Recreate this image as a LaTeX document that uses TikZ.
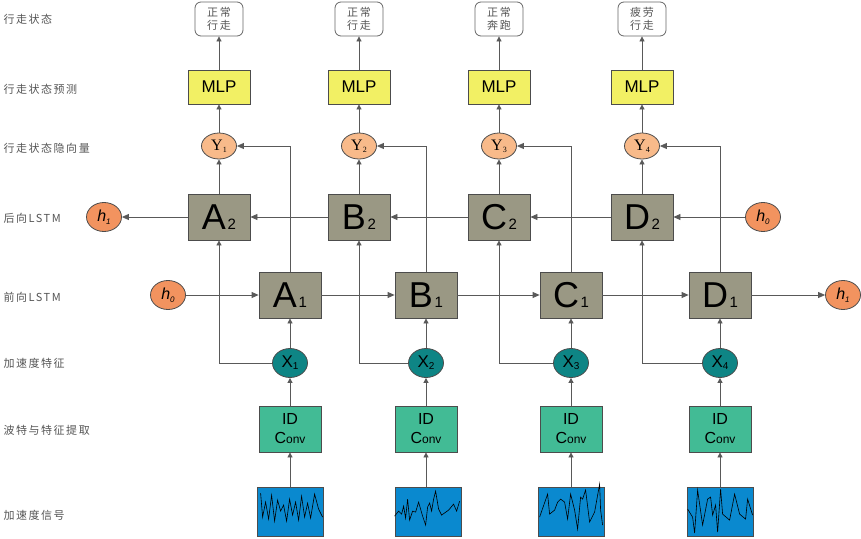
\documentclass[tikz,border=0pt]{standalone}
\usepackage{fontspec}
\setmainfont{Liberation Sans}
\newfontfamily\cjk[LetterSpace=14]{Noto Sans CJK SC}
\newfontfamily\ser{Liberation Serif}
\usetikzlibrary{shapes.geometric,arrows.meta}

\definecolor{lstmgray}{RGB}{154,152,132}
\definecolor{convgreen}{RGB}{66,187,149}
\definecolor{mlpyellow}{RGB}{242,240,100}
\definecolor{ypeach}{RGB}{248,186,138}
\definecolor{horange}{RGB}{242,147,95}
\definecolor{xteal}{RGB}{14,133,133}
\definecolor{sigblue}{RGB}{10,137,207}
\definecolor{txtgray}{RGB}{85,85,85}

\newcommand{\lstmlab}[2]{{\fontsize{36}{36}\selectfont #1}\,{\fontsize{15}{15}\selectfont #2}}
\newcommand{\xlab}[1]{{\fontsize{17}{17}\selectfont X}\raisebox{-2pt}{\fontsize{10}{10}\selectfont #1}}
\newcommand{\ylab}[1]{{\ser\fontsize{16}{16}\selectfont Y}\raisebox{-2pt}{\ser\fontsize{8}{8}\selectfont #1}}
\newcommand{\hlab}[1]{{\itshape\fontsize{16}{16}\selectfont h}\raisebox{-3pt}{\itshape\fontsize{8}{8}\selectfont #1}}
\newcommand{\convlab}{ID\\C{\fontsize{12}{12}\selectfont onv}}

\tikzset{
	line/.style={draw=black!65, line width=0.8pt},
	arr/.style={line, -{Triangle[length=7pt,width=6pt]}},
	sarr/.style={line, -{Triangle[length=5pt,width=5pt]}},
	lstm/.style={draw=black!70, line width=0.8pt, fill=lstmgray, minimum width=62pt, minimum height=46pt, inner sep=0pt},
	conv/.style={draw=black!70, line width=0.8pt, fill=convgreen, minimum width=62pt, minimum height=46pt, inner sep=0pt, align=center, font=\fontsize{16}{19}\selectfont},
	mlp/.style={draw=black!70, line width=0.8pt, fill=mlpyellow, minimum width=62pt, minimum height=34pt, inner sep=0pt, font=\fontsize{17}{17}\selectfont},
	state/.style={draw=black!60, line width=0.8pt, rounded corners=6pt, fill=white, minimum width=48pt, minimum height=34pt, inner sep=0pt, align=center, text=txtgray, font=\cjk\fontsize{11}{12.5}\selectfont},
	xin/.style={ellipse, draw=black!70, line width=0.8pt, fill=xteal, minimum width=35pt, minimum height=29pt, inner sep=0pt},
	yout/.style={ellipse, draw=black!70, line width=0.8pt, fill=ypeach, minimum width=35pt, minimum height=26pt, inner sep=0pt},
	hid/.style={ellipse, draw=black!70, line width=0.8pt, fill=horange, minimum width=35pt, minimum height=29pt, inner sep=0pt},
	sig/.style={draw=black!70, line width=0.8pt, fill=sigblue, minimum width=66pt, minimum height=49pt, inner sep=0pt},
	wave/.style={draw=black, line width=0.6pt},
	rowlab/.style={anchor=west, text=txtgray, font=\cjk\fontsize{11}{11}\selectfont}
}

\begin{document}
\begin{tikzpicture}[x=1pt,y=-1pt]
	\useasboundingbox (0,0) rectangle (861,538);
	% row labels
	\node (l1) at (0,19)[rowlab]{行走状态};
	\node (l2) at (0,89)[rowlab]{行走状态预测};
	\node (l3) at (0,148)[rowlab]{行走状态隐向量};
	\node (l4) at (0,218)[rowlab]{后向LSTM};
	\node (l5) at (0,297)[rowlab]{前向LSTM};
	\node (l6) at (0,363)[rowlab]{加速度特征};
	\node (l7) at (0,430)[rowlab]{波特与特征提取};
	\node (l8) at (0,515)[rowlab]{加速度信号};
	% outputs
	\node (st1) at (219,19)[state]{正常\\行走};
	\node (st2) at (359,19)[state]{正常\\行走};
	\node (st3) at (499,19)[state]{正常\\奔跑};
	\node (st4) at (642,19)[state]{疲劳\\行走};
	\node (mlp1) at (219,87)[mlp]{MLP};
	\node (mlp2) at (359,87)[mlp]{MLP};
	\node (mlp3) at (499,87)[mlp]{MLP};
	\node (mlp4) at (642,87)[mlp]{MLP};
	\node (Y1) at (219,146)[yout]{\ylab{1}};
	\node (Y2) at (359,146)[yout]{\ylab{2}};
	\node (Y3) at (499,146)[yout]{\ylab{3}};
	\node (Y4) at (642,146)[yout]{\ylab{4}};
	% backward LSTM
	\node (A2) at (219,217)[lstm]{\lstmlab{A}{2}};
	\node (B2) at (359,217)[lstm]{\lstmlab{B}{2}};
	\node (C2) at (499,217)[lstm]{\lstmlab{C}{2}};
	\node (D2) at (642,217)[lstm]{\lstmlab{D}{2}};
	\node (h1b) at (104,217)[hid]{\hlab{1}};
	\node (h0b) at (763,217)[hid]{\hlab{0}};
	% forward LSTM
	\node (A1) at (290,295)[lstm]{\lstmlab{A}{1}};
	\node (B1) at (426,295)[lstm]{\lstmlab{B}{1}};
	\node (C1) at (571,295)[lstm]{\lstmlab{C}{1}};
	\node (D1) at (720,295)[lstm]{\lstmlab{D}{1}};
	\node (h0f) at (168,295)[hid]{\hlab{0}};
	\node (h1f) at (843,295)[hid]{\hlab{1}};
	% inputs
	\node (X1) at (290,363)[xin]{\xlab{1}};
	\node (X2) at (426,363)[xin]{\xlab{2}};
	\node (X3) at (571,363)[xin]{\xlab{3}};
	\node (X4) at (720,363)[xin]{\xlab{4}};
	\node (conv1) at (290,429)[conv]{\convlab};
	\node (conv2) at (426,429)[conv]{\convlab};
	\node (conv3) at (571,429)[conv]{\convlab};
	\node (conv4) at (720,429)[conv]{\convlab};
	\node (sig1) at (290,512)[sig]{};
	\node (sig2) at (428,512)[sig]{};
	\node (sig3) at (571,512)[sig]{};
	\node (sig4) at (720,512)[sig]{};
	% waveforms
	\begin{scope}[shift={(sig1.north west)}]
		\draw[wave] (4,6)--(6,30)--(9,15)--(12,32)--(15,8)--(18,34)--(21,13)--(24,24)--(27,18)--(30,34)--(33,12)--(36,28)--(39,15)--(42,33)--(45,9)--(48,30)--(51,16)--(54,31)--(58,7)--(62,22)--(66,30);
	\end{scope}
	\begin{scope}[shift={(sig2.north west)}]
		\draw[wave] (0,29)--(4,24)--(7,27)--(9,19)--(11,31)--(13,12)--(15,33)--(18,24)--(21,25)--(24,15)--(28,29)--(31,38)--(33,20)--(35,16)--(37,24)--(39,12)--(41,4)--(44,22)--(47,28)--(54,23)--(59,17)--(62,24)--(65,14);
	\end{scope}
	\begin{scope}[shift={(sig3.north west)}]
		\draw[wave] (2,30)--(10,7)--(12,27)--(17,23)--(20,15)--(23,12)--(27,15)--(30,32)--(33,7)--(37,23)--(40,42)--(43,10)--(45,12)--(48,3)--(52,35)--(57,25)--(62,-3)--(63,23)--(65,38);
	\end{scope}
	\begin{scope}[shift={(sig4.north west)}]
		\draw[wave] (1,22)--(6,30)--(8,46)--(11,3)--(16,38)--(21,12)--(24,10)--(26,28)--(29,18)--(31,45)--(34,2)--(36,27)--(43,33)--(48,7)--(53,27)--(59,32)--(61,12)--(66,28);
	\end{scope}
	% connectors, forward
	\draw[arr] (h0f)--(A1);
	\draw[arr] (A1)--(B1);
	\draw[arr] (B1)--(C1);
	\draw[arr] (C1)--(D1);
	\draw[arr] (D1)--(h1f);
	% connectors, backward
	\draw[arr] (h0b)--(D2);
	\draw[arr] (D2)--(C2);
	\draw[arr] (C2)--(B2);
	\draw[arr] (B2)--(A2);
	\draw[arr] (A2)--(h1b);
	% columns
	\draw[sarr] (sig1)--(conv1);
	\draw[sarr] (sig2.north -| conv2)--(conv2);
	\draw[sarr] (sig3)--(conv3);
	\draw[sarr] (sig4)--(conv4);
	\draw[sarr] (conv1)--(X1);
	\draw[sarr] (conv2)--(X2);
	\draw[sarr] (conv3)--(X3);
	\draw[sarr] (conv4)--(X4);
	\draw[sarr] (X1)--(A1);
	\draw[sarr] (X2)--(B1);
	\draw[sarr] (X3)--(C1);
	\draw[sarr] (X4)--(D1);
	\draw[sarr] (X1.west) -| (A2.south);
	\draw[sarr] (X2.west) -| (B2.south);
	\draw[sarr] (X3.west) -| (C2.south);
	\draw[sarr] (X4.west) -| (D2.south);
	\draw[arr] (A1.north) |- (Y1.east);
	\draw[arr] (B1.north) |- (Y2.east);
	\draw[arr] (C1.north) |- (Y3.east);
	\draw[arr] (D1.north) |- (Y4.east);
	\draw[sarr] (A2)--(Y1);
	\draw[sarr] (B2)--(Y2);
	\draw[sarr] (C2)--(Y3);
	\draw[sarr] (D2)--(Y4);
	\draw[sarr] (Y1)--(mlp1);
	\draw[sarr] (Y2)--(mlp2);
	\draw[sarr] (Y3)--(mlp3);
	\draw[sarr] (Y4)--(mlp4);
	\draw[sarr] (mlp1)--(st1);
	\draw[sarr] (mlp2)--(st2);
	\draw[sarr] (mlp3)--(st3);
	\draw[sarr] (mlp4)--(st4);
\end{tikzpicture}
\end{document}
